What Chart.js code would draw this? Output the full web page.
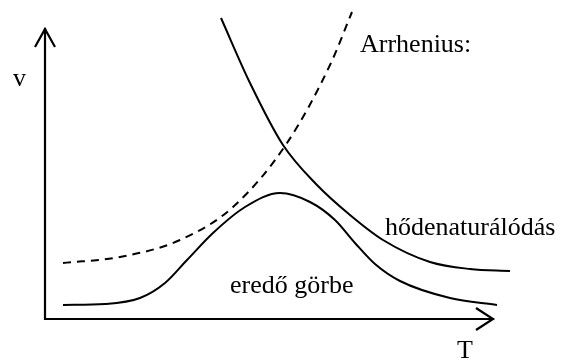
<!DOCTYPE html>
<html>
<head>
<meta charset="utf-8">
<script src="https://cdn.jsdelivr.net/npm/chart.js@4"></script>
<style>
  html, body { margin: 0; padding: 0; background: #fff; }
  #c { display: block; }
</style>
</head>
<body>
<canvas id="c" width="564" height="360"></canvas>
<script>
// Arrhenius curve (dashed)
const arrheniusT = [18, 75, 135, 188, 242, 285, 307];
const arrheniusV = [56, 62, 79, 112, 176, 254, 307];

// heat denaturation curve
const denatT = [176, 205, 238, 272, 305, 338, 385, 425, 465];
const denatV = [301, 236, 174, 134, 104, 79, 57, 50, 48];

// resulting curve
const resultT = [18, 60, 95, 120, 142, 168, 200, 235, 265, 290, 310, 330, 355, 405, 452];
const resultV = [14, 15, 21, 36, 59, 86, 112, 126, 117, 99, 76, 55, 38, 21, 14];

// axis extents
const tAxisEnd = 448;
const vAxisEnd = 290;

// text labels, anchored in data units
const labels = [
  { text: 'v', t: -32, v: 233 },
  { text: 'Arrhenius:', t: 315, v: 267 },
  { text: 'hődenaturálódás', t: 340, v: 84 },
  { text: 'eredő görbe', t: 185, v: 26 },
  { text: 'T', t: 412, v: -39 }
];

function toPoints(xs, ys) {
  return xs.map((x, i) => ({ x: x, y: ys[i] }));
}

// draws the two arrowed axes and the text labels
const axesPlugin = {
  id: 'axesPlugin',
  afterDatasetsDraw(chart) {
    const ctx = chart.ctx;
    const xs = chart.scales.x;
    const ys = chart.scales.y;
    const x0 = xs.getPixelForValue(0);
    const y0 = ys.getPixelForValue(0);
    const xEnd = xs.getPixelForValue(tAxisEnd);
    const yEnd = ys.getPixelForValue(vAxisEnd);

    ctx.save();
    ctx.strokeStyle = '#000';
    ctx.lineWidth = 2.2;
    ctx.lineCap = 'square';
    ctx.beginPath();
    ctx.moveTo(x0, yEnd);
    ctx.lineTo(x0, y0);
    ctx.lineTo(xEnd, y0);
    ctx.stroke();

    ctx.lineCap = 'butt';
    ctx.beginPath();
    ctx.moveTo(x0 - 10, yEnd + 18);
    ctx.lineTo(x0, yEnd);
    ctx.lineTo(x0 + 10, yEnd + 18);
    ctx.moveTo(xEnd - 17, y0 - 11);
    ctx.lineTo(xEnd, y0);
    ctx.lineTo(xEnd - 17, y0 + 11);
    ctx.stroke();

    ctx.fillStyle = '#000';
    ctx.font = '26px "Liberation Serif", "Times New Roman", serif';
    ctx.textBaseline = 'alphabetic';
    ctx.textAlign = 'left';
    labels.forEach((l) => {
      ctx.fillText(l.text, xs.getPixelForValue(l.t), ys.getPixelForValue(l.v));
    });
    ctx.restore();
  }
};

const common = {
  borderColor: '#000',
  borderWidth: 2,
  pointRadius: 0,
  cubicInterpolationMode: 'monotone',
  fill: false
};

const ctx = document.getElementById('c').getContext('2d');
new Chart(ctx, {
  type: 'line',
  data: {
    datasets: [
      Object.assign({ label: 'Arrhenius', data: toPoints(arrheniusT, arrheniusV), borderDash: [8, 6] }, common),
      Object.assign({ label: 'hődenaturálódás', data: toPoints(denatT, denatV) }, common),
      Object.assign({ label: 'eredő görbe', data: toPoints(resultT, resultV) }, common)
    ]
  },
  options: {
    responsive: false,
    animation: false,
    layout: { padding: 0 },
    plugins: {
      legend: { display: false },
      tooltip: { enabled: false }
    },
    scales: {
      x: { type: 'linear', min: -45, max: 519, display: false },
      y: { type: 'linear', min: -41, max: 319, display: false }
    }
  },
  plugins: [axesPlugin]
});
</script>
</body>
</html>
